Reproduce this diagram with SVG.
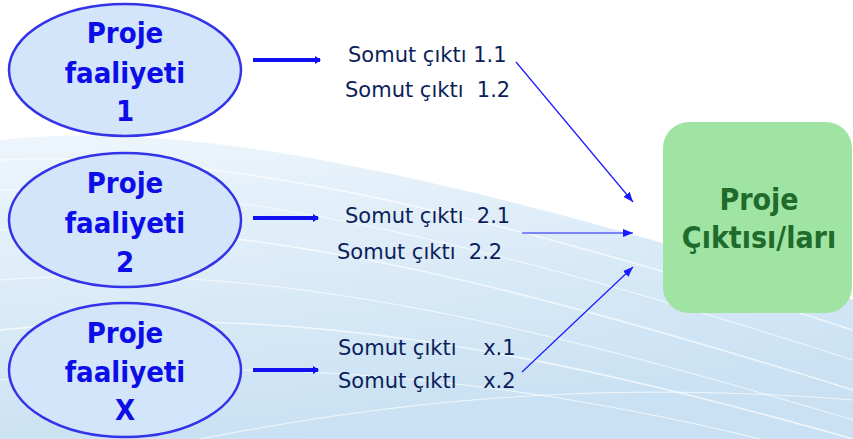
<svg xmlns="http://www.w3.org/2000/svg" width="853" height="439" viewBox="0 0 853 439">
<defs>
<linearGradient id="bg" x1="0" y1="0" x2="0.3" y2="1">
<stop offset="0" stop-color="#eef6fc"/>
<stop offset="1" stop-color="#c9e1f3"/>
</linearGradient>
<marker id="thick" viewBox="0 0 6 8" refX="5" refY="4" markerWidth="6" markerHeight="8" markerUnits="userSpaceOnUse" orient="auto">
<path d="M0,0 L6,4 L0,8 Z" fill="#1010f0"/>
</marker>
<marker id="thin" viewBox="0 0 10 8" refX="10" refY="4" markerWidth="10" markerHeight="8" markerUnits="userSpaceOnUse" orient="auto">
<path d="M0,0 L10,4 L0,8 Z" fill="#1a1aff"/>
</marker>
<style>
.ell{fill:#d2e5fb;stroke:#3333e8;stroke-width:2.5}
.et{font-family:"DejaVu Sans Condensed","DejaVu Sans",sans-serif;font-weight:bold;font-size:29px;fill:#0d0de8;text-anchor:middle}
.st{font-family:"DejaVu Sans",sans-serif;font-size:21px;fill:#0c1f5a;white-space:pre}
.thk{stroke:#1010f0;stroke-width:4;fill:none}
.thn{stroke:#1a1aff;stroke-width:1.2;fill:none}
.gt{font-family:"DejaVu Sans Condensed","DejaVu Sans",sans-serif;font-weight:bold;font-size:30px;fill:#1f6b2c;text-anchor:middle}
.wl{stroke:#ffffff;fill:none;opacity:0.7}
</style>
</defs>
<rect width="853" height="439" fill="#ffffff"/>
<g id="background">
<path d="M0,140 C180,120 420,165 853,300 L853,439 L0,439 Z" fill="url(#bg)"/>
<path class="wl" stroke-width="1.5" d="M0,160 C200,150 450,200 853,330"/>
<path class="wl" stroke-width="1" d="M0,190 C220,180 480,240 853,360"/>
<path class="wl" stroke-width="1.5" d="M0,230 C240,215 500,280 853,390"/>
<path class="wl" stroke-width="1" d="M0,280 C260,260 520,320 853,420"/>
<path class="wl" stroke-width="1.5" d="M0,330 C280,300 540,350 853,439"/>
<path class="wl" stroke-width="1" d="M0,380 C300,350 560,390 760,439"/>
<path class="wl" stroke-width="1" d="M200,439 C400,400 600,380 853,400"/>
</g>
<g id="connectors">
<line class="thk" x1="253" y1="60" x2="320" y2="60" marker-end="url(#thick)"/>
<line class="thk" x1="253" y1="218" x2="318" y2="218" marker-end="url(#thick)"/>
<line class="thk" x1="253" y1="370" x2="318" y2="370" marker-end="url(#thick)"/>
<line class="thn" x1="516" y1="62" x2="633" y2="202" marker-end="url(#thin)"/>
<line class="thn" x1="522" y1="233" x2="633" y2="233" marker-end="url(#thin)"/>
<line class="thn" x1="522" y1="372" x2="633" y2="267" marker-end="url(#thin)"/>
</g>
<g id="node-proje-faaliyeti-1">
<ellipse class="ell" cx="125" cy="70" rx="116" ry="66"/>
<text class="et" x="125" y="43">Proje</text>
<text class="et" x="125" y="83">faaliyeti</text>
<text class="et" x="125" y="121">1</text>
</g>
<g id="node-proje-faaliyeti-2">
<ellipse class="ell" cx="125" cy="220" rx="116" ry="67"/>
<text class="et" x="125" y="193">Proje</text>
<text class="et" x="125" y="233">faaliyeti</text>
<text class="et" x="125" y="272">2</text>
</g>
<g id="node-proje-faaliyeti-x">
<ellipse class="ell" cx="125" cy="370" rx="116" ry="67"/>
<text class="et" x="125" y="343">Proje</text>
<text class="et" x="125" y="382">faaliyeti</text>
<text class="et" x="125" y="420">X</text>
</g>
<g id="outputs-1">
<text class="st" x="348" y="62">Somut çıktı 1.1</text>
<text class="st" x="345" y="97">Somut çıktı  1.2</text>
</g>
<g id="outputs-2">
<text class="st" x="345" y="223">Somut çıktı  2.1</text>
<text class="st" x="337" y="259">Somut çıktı  2.2</text>
</g>
<g id="outputs-x">
<text class="st" x="338" y="355">Somut çıktı    x.1</text>
<text class="st" x="338" y="388">Somut çıktı    x.2</text>
</g>
<g id="node-proje-ciktisi">
<rect x="663" y="122" width="189" height="191" rx="26" ry="26" fill="#a0e4a4"/>
<text class="gt" x="759" y="210">Proje</text>
<text class="gt" x="759" y="248">Çıktısı/ları</text>
</g>
</svg>
